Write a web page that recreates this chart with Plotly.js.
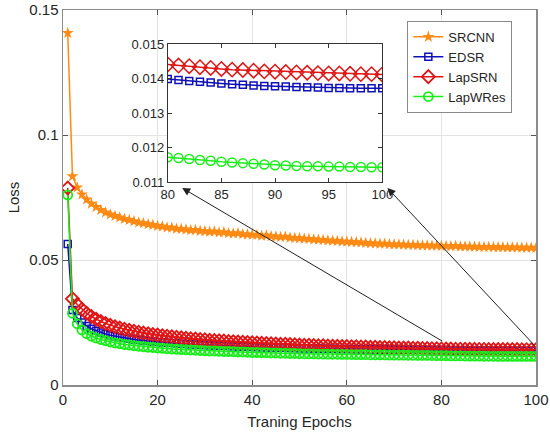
<!DOCTYPE html>
<html>
<head>
<meta charset="utf-8">
<script src="https://cdn.plot.ly/plotly-3.0.1.min.js"></script>
<style>html,body{margin:0;padding:0;background:#fff;}#chart{width:550px;height:435px;}</style>
</head>
<body>
<div id="chart"></div>
<script>
// Epochs 1..100
var epochs = [];
for (var i = 1; i <= 100; i++) epochs.push(i);

var srcnn = [0.1408,0.0835,0.0790,0.0762,0.0742,0.0725,0.0712,0.0700,0.0690,0.0682,
0.0676,0.0670,0.0664,0.0660,0.0655,0.0650,0.0647,0.0643,0.0640,0.0636,
0.0634,0.0630,0.0629,0.0625,0.0624,0.0622,0.0619,0.0620,0.0616,0.0615,
0.0613,0.0614,0.0610,0.0611,0.0607,0.0606,0.0607,0.0603,0.0602,0.0601,
0.0600,0.0597,0.0598,0.0595,0.0594,0.0592,0.0593,0.0589,0.0588,0.0587,
0.0585,0.0584,0.0582,0.0581,0.0580,0.0578,0.0577,0.0576,0.0574,0.0573,
0.0572,0.0571,0.0570,0.0568,0.0567,0.0566,0.0565,0.0565,0.0563,0.0562,
0.0562,0.0561,0.0560,0.0560,0.0559,0.0558,0.0558,0.0557,0.0557,0.0556,
0.0556,0.0555,0.0556,0.0554,0.0554,0.0553,0.0553,0.0552,0.0552,0.0552,
0.0551,0.0551,0.0551,0.0550,0.0550,0.0550,0.0549,0.0549,0.0549,0.0548];

var edsr = [0.0564,0.0300,0.0268,0.0250,0.0236,0.0225,0.0217,0.0210,0.0204,0.0199,
0.0195,0.0191,0.0188,0.0185,0.0182,0.0180,0.0178,0.0176,0.0174,0.0172,
0.0171,0.0169,0.0168,0.0167,0.0165,0.0164,0.0163,0.0162,0.0161,0.0160,
0.0159,0.0158,0.0157,0.0157,0.0156,0.0155,0.0154,0.0154,0.0153,0.0152,
0.0152,0.0151,0.0151,0.0150,0.0150,0.0149,0.0149,0.0148,0.0148,0.0147,
0.0147,0.01466,0.01462,0.01458,0.01455,0.01451,0.01448,0.01445,0.01442,0.01439,
0.01436,0.01434,0.01431,0.01429,0.01427,0.01424,0.01422,0.01420,0.01418,0.01416,
0.01414,0.01413,0.01411,0.01409,0.01408,0.01406,0.01404,0.01403,0.01401,0.01399,
0.01396,0.01393,0.01391,0.01389,0.01386,0.01384,0.01382,0.01380,0.01379,0.01378,
0.01377,0.01376,0.01375,0.01374,0.01373,0.01373,0.01372,0.01372,0.01372,0.01372];

var lapsrn = [0.0788,0.0345,0.0322,0.0303,0.0287,0.0274,0.0263,0.0254,0.0246,0.0239,
0.0233,0.0228,0.0223,0.0219,0.0215,0.0211,0.0208,0.0205,0.0202,0.0200,
0.0197,0.0195,0.0193,0.0191,0.0189,0.0187,0.0185,0.0184,0.0182,0.0181,
0.0179,0.0178,0.0177,0.0176,0.0174,0.0173,0.0172,0.0171,0.0170,0.0169,
0.0168,0.0167,0.0166,0.0165,0.0164,0.0163,0.0163,0.0162,0.0161,0.0160,
0.0159,0.0159,0.0158,0.0157,0.0157,0.0156,0.0155,0.0155,0.0154,0.0154,
0.0153,0.0153,0.0152,0.0152,0.0151,0.0151,0.0150,0.0150,0.0149,0.0149,
0.0148,0.0148,0.01475,0.01470,0.01466,0.01462,0.01456,0.01451,0.01446,0.01441,
0.01438,0.01436,0.01433,0.01431,0.01428,0.01426,0.01425,0.01423,0.01421,0.01420,
0.01419,0.01418,0.01417,0.01416,0.01415,0.01415,0.01414,0.01413,0.01413,0.01412];

var lapwres = [0.0760,0.0287,0.0245,0.0220,0.0205,0.0195,0.0188,0.0182,0.0177,0.0172,
0.0168,0.0165,0.0162,0.0160,0.0157,0.0155,0.0153,0.0151,0.0150,0.0148,
0.0147,0.0145,0.0144,0.0143,0.0142,0.0141,0.0140,0.0139,0.0138,0.0137,
0.0136,0.0136,0.0135,0.0134,0.0134,0.0133,0.0132,0.0132,0.0131,0.0130,
0.0130,0.0129,0.0129,0.0128,0.0128,0.0127,0.0127,0.0126,0.0126,0.0125,
0.01248,0.01245,0.01242,0.01239,0.01236,0.01233,0.01230,0.01228,0.01225,0.01222,
0.01219,0.01217,0.01214,0.01212,0.01209,0.01207,0.01204,0.01202,0.01199,0.01197,
0.01195,0.01193,0.01191,0.01189,0.01187,0.01184,0.01182,0.01178,0.01175,0.01172,
0.01170,0.01167,0.01164,0.01162,0.01159,0.01157,0.01155,0.01153,0.01151,0.01149,
0.01148,0.01147,0.01146,0.01146,0.01145,0.01145,0.01144,0.01144,0.01143,0.01143];

var seriesNames = ['SRCNN','EDSR','LapSRN','LapWRes'];
var xTickVals = [0,20,40,60,80,100];
var yTickVals = [0,0.05,0.1,0.15];
var yTickText = ['0','0.05','0.1','0.15'];
var insetXTicks = [80,85,90,95,100];
var insetYTicks = [0.011,0.012,0.013,0.014,0.015];
var insetYText = ['0.011','0.012','0.013','0.014','0.015'];
var zoomFrom = 80, zoomTo = 100;

var colors = {SRCNN:'#FF8A14', EDSR:'#1010B8', LapSRN:'#E01515', LapWRes:'#18EE18'};
var FONT = 'Arial, "Liberation Sans", Helvetica, sans-serif';

var insetX = [], iE = [], iL = [], iW = [];
for (var k = 0; k < epochs.length; k++) {
  if (epochs[k] >= zoomFrom && epochs[k] <= zoomTo) {
    insetX.push(epochs[k]); iE.push(edsr[k]); iL.push(lapsrn[k]); iW.push(lapwres[k]);
  }
}

var traces = [
  {x: epochs, y: srcnn, name: seriesNames[0], type:'scatter', mode:'lines+markers',
   line:{color:colors.SRCNN, width:1.5}, marker:{symbol:'star', size:9, color:colors.SRCNN}},
  {x: epochs, y: edsr, name: seriesNames[1], type:'scatter', mode:'lines+markers',
   line:{color:colors.EDSR, width:1.5}, marker:{symbol:'square-open', size:7, color:colors.EDSR, line:{width:1.5}}},
  {x: epochs, y: lapsrn, name: seriesNames[2], type:'scatter', mode:'lines+markers',
   line:{color:colors.LapSRN, width:1.5}, marker:{symbol:'diamond-open', size:10, color:colors.LapSRN, line:{width:1.8}}},
  {x: epochs, y: lapwres, name: seriesNames[3], type:'scatter', mode:'lines+markers',
   line:{color:colors.LapWRes, width:1.5}, marker:{symbol:'circle-open', size:9, color:colors.LapWRes, line:{width:1.8}}},
  {x: insetX, y: iE, xaxis:'x2', yaxis:'y2', showlegend:false, type:'scatter', mode:'lines+markers',
   line:{color:colors.EDSR, width:1.5}, marker:{symbol:'square-open', size:7, color:colors.EDSR, line:{width:1.5}}},
  {x: insetX, y: iL, xaxis:'x2', yaxis:'y2', showlegend:false, type:'scatter', mode:'lines+markers',
   line:{color:colors.LapSRN, width:1.5}, marker:{symbol:'diamond-open', size:11, color:colors.LapSRN, line:{width:1.5}}},
  {x: insetX, y: iW, xaxis:'x2', yaxis:'y2', showlegend:false, type:'scatter', mode:'lines+markers',
   line:{color:colors.LapWRes, width:1.5}, marker:{symbol:'circle-open', size:9, color:colors.LapWRes, line:{width:1.5}}}
];

var layout = {
  width:550, height:435,
  margin:{l:63, r:14, t:10, b:50},
  paper_bgcolor:'#fff', plot_bgcolor:'#fff',
  font:{family:FONT, color:'#262626', size:14},
  showlegend:true,
  legend:{x:0.728, y:0.971, xanchor:'left', yanchor:'top', bgcolor:'#fff',
          bordercolor:'#8a8a8a', borderwidth:1, font:{size:13, family:FONT, color:'#262626'},
          tracegroupgap:0},
  xaxis:{domain:[0,1], range:[0,100], tickvals:xTickVals, ticks:'inside', ticklen:5,
         tickcolor:'#555', showline:true, linecolor:'#8c8c8c', linewidth:1.5, mirror:'ticks',
         showgrid:true, gridcolor:'#e3e3e3', gridwidth:1, zeroline:false, automargin:false,
         ticklabeloverflow:'allow',
         tickfont:{size:15}, title:{text:'Traning Epochs', font:{size:15}, standoff:10}},
  yaxis:{domain:[0,1], range:[0,0.15], tickvals:yTickVals, ticktext:yTickText, ticks:'inside', ticklen:5,
         tickcolor:'#555', showline:true, linecolor:'#8c8c8c', linewidth:1.5, mirror:'ticks',
         showgrid:true, gridcolor:'#e3e3e3', gridwidth:1, zeroline:false, automargin:false,
         tickfont:{size:15}, title:{text:'Loss', font:{size:15}, standoff:6}},
  xaxis2:{domain:[0.2215,0.675], anchor:'y2', range:[80,100], tickvals:insetXTicks, ticks:'inside', ticklen:4,
          tickcolor:'#333', showline:true, linecolor:'#333', linewidth:1, mirror:'ticks',
          showgrid:false, zeroline:false, tickfont:{size:13}, ticklabeloverflow:'allow'},
  yaxis2:{domain:[0.541,0.909], anchor:'x2', range:[0.011,0.015], tickvals:insetYTicks, ticktext:insetYText,
          ticks:'inside', ticklen:4, tickcolor:'#333', showline:true, linecolor:'#333', linewidth:1, mirror:'ticks',
          showgrid:false, zeroline:false, tickfont:{size:13}},
  annotations:[
    {x:25.2, y:0.0788, xref:'x', yref:'y', ax:80.5, ay:0.0172, axref:'x', ayref:'y', text:'',
     showarrow:true, arrowhead:2, arrowsize:1.6, arrowwidth:1, arrowcolor:'#222'},
    {x:68.6, y:0.0788, xref:'x', yref:'y', ax:100, ay:0.0152, axref:'x', ayref:'y', text:'',
     showarrow:true, arrowhead:2, arrowsize:1.6, arrowwidth:1, arrowcolor:'#222'}
  ]
};

Plotly.newPlot('chart', traces, layout, {displayModeBar:false, staticPlot:true});
</script>
</body>
</html>
